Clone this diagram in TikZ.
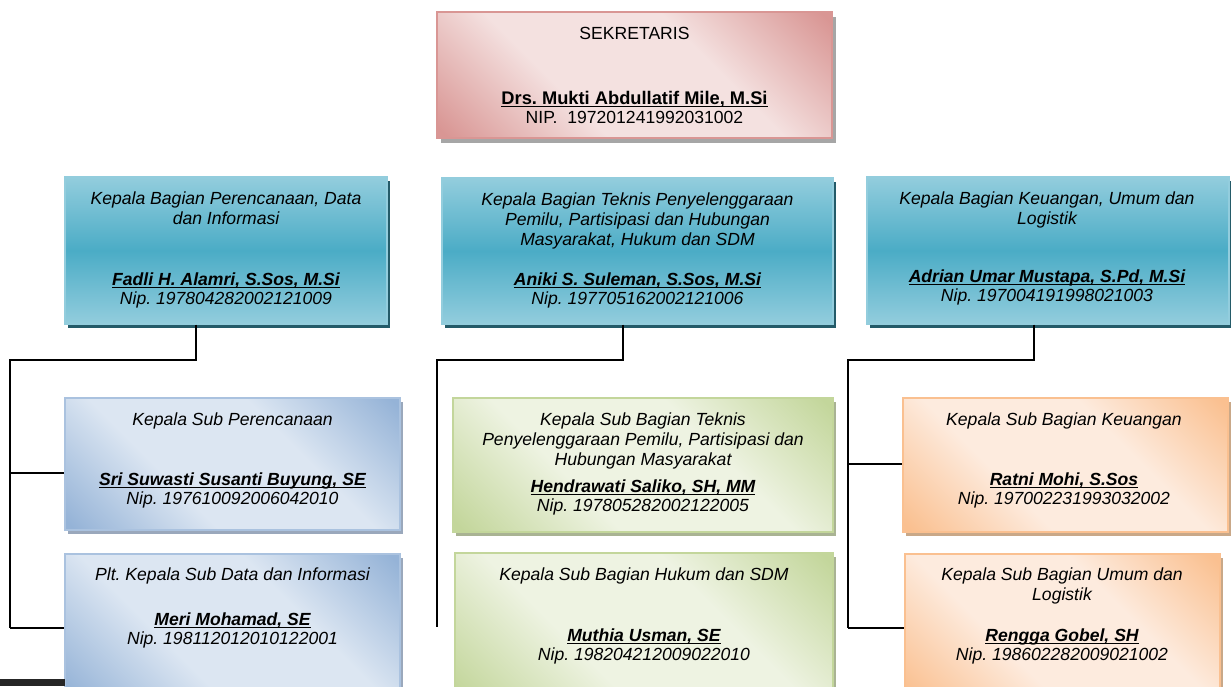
\documentclass[tikz,border=0pt]{standalone}
\usepackage{fontspec}
\setmainfont{Liberation Sans}
\usetikzlibrary{shadows}

\definecolor{sekgelap}{HTML}{D99694}
\definecolor{sekterang}{HTML}{F4E1E0}
\definecolor{sekbayang}{HTML}{A6A6A6}
\definecolor{tealgelap}{HTML}{4BACC6}
\definecolor{tealterang}{HTML}{93CDDD}
\definecolor{tealbayang}{HTML}{245B69}
\definecolor{birugelap}{HTML}{95B3D7}
\definecolor{biruterang}{HTML}{DCE6F2}
\definecolor{birubayang}{HTML}{9AA8BC}
\definecolor{hijaugelap}{HTML}{C3D69B}
\definecolor{hijauterang}{HTML}{EEF3E2}
\definecolor{hijaubayang}{HTML}{A9B393}
\definecolor{oranyegelap}{HTML}{FAC090}
\definecolor{oranyeterang}{HTML}{FDEBDE}
\definecolor{oranyebayang}{HTML}{C9A888}

\pgfdeclareverticalshading{sekshade}{100bp}{color(0bp)=(sekgelap); color(16bp)=(sekgelap);
  color(38bp)=(sekterang); color(62bp)=(sekterang); color(84bp)=(sekgelap); color(100bp)=(sekgelap)}
\pgfdeclareverticalshading{birushade}{100bp}{color(0bp)=(birugelap); color(16bp)=(birugelap);
  color(38bp)=(biruterang); color(62bp)=(biruterang); color(84bp)=(birugelap); color(100bp)=(birugelap)}
\pgfdeclareverticalshading{hijaushade}{100bp}{color(0bp)=(hijaugelap); color(16bp)=(hijaugelap);
  color(38bp)=(hijauterang); color(62bp)=(hijauterang); color(84bp)=(hijaugelap); color(100bp)=(hijaugelap)}
\pgfdeclareverticalshading{oranyeshade}{100bp}{color(0bp)=(oranyegelap); color(16bp)=(oranyegelap);
  color(38bp)=(oranyeterang); color(62bp)=(oranyeterang); color(84bp)=(oranyegelap); color(100bp)=(oranyegelap)}

\newcommand{\pxu}{0.025cm}
\newcommand{\garisbawah}[1]{\setbox0\hbox{#1}\rlap{\rule[-1.8pt]{\wd0}{0.7pt}}\box0}
\frenchspacing

\begin{document}
\begin{tikzpicture}
  [x=0.025cm,y=-0.025cm,
   every node/.style={inner sep=0pt, align=center, font=\fontsize{12.5}{14.5}\selectfont},
   kotak/.style 2 args={rectangle, minimum width=#1*\pxu, minimum height=#2*\pxu},
   sek/.style={draw=sekgelap, line width=0.8pt, shading=sekshade, shading angle=-45,
     drop shadow={shadow xshift=0.1cm, shadow yshift=-0.12cm, fill=sekbayang, opacity=1}},
   bag/.style={draw=tealterang, line width=1pt, top color=tealterang, bottom color=tealterang,
     middle color=tealgelap,
     drop shadow={shadow xshift=0.08cm, shadow yshift=-0.09cm, fill=tealbayang, opacity=1}},
   subbiru/.style={draw=birugelap!80, line width=0.8pt, shading=birushade, shading angle=-45,
     drop shadow={shadow xshift=0.08cm, shadow yshift=-0.09cm, fill=birubayang, opacity=1}},
   subhijau/.style={draw=hijaugelap, line width=0.8pt, shading=hijaushade, shading angle=-45,
     drop shadow={shadow xshift=0.08cm, shadow yshift=-0.09cm, fill=hijaubayang, opacity=1}},
   suboranye/.style={draw=oranyegelap, line width=0.8pt, shading=oranyeshade, shading angle=-45,
     drop shadow={shadow xshift=0.08cm, shadow yshift=-0.09cm, fill=oranyebayang, opacity=1}},
   judul/.style={font=\fontsize{12.5}{14.5}\selectfont\itshape},
   nama/.style={font=\fontsize{12.5}{13.5}\selectfont\itshape},
   link/.style={line width=1.5pt}]
  \useasboundingbox (0,0) rectangle (1231,686);

  % kotak
  \node[sek, kotak={395}{126}] (sek) at (634.5,75) {};
  \node[bag, kotak={322}{147}] (kb1) at (226,250.5) {};
  \node[bag, kotak={391}{146}] (kb2) at (637.5,251) {};
  \node[bag, kotak={362}{147}] (kb3) at (1048,250.5) {};
  \node[subbiru, kotak={335}{132}] (ks1) at (232.5,464) {};
  \node[subbiru, kotak={335}{146}] (ks2) at (232.5,627) {};
  \node[subhijau, kotak={380}{134}] (ks3) at (643,465) {};
  \node[subhijau, kotak={378}{147}] (ks4) at (644,626.5) {};
  \node[suboranye, kotak={325}{134}] (ks5) at (1065.5,465) {};
  \node[suboranye, kotak={315}{146}] (ks6) at (1062.5,627) {};
  \fill[black!85] (0,679) rectangle (65,686);

  % teks
  \node (sekj) at (634.5,33) {SEKRETARIS};
  \node[font=\fontsize{12.5}{13.5}\selectfont] (sekn) at (634.5,107.5)
    {{\fontsize{13}{13.5}\selectfont\textbf{\garisbawah{Drs. Mukti Abdullatif Mile, M.Si}}}\\NIP.\ \ 197201241992031002};
  \node[judul] (kb1j) at (226,208) {Kepala Bagian Perencanaan, Data\\dan Informasi};
  \node[nama] (kb1n) at (226,290) {\textbf{\garisbawah{Fadli H. Alamri, S.Sos, M.Si}}\\Nip. 197804282002121009};
  \node[judul] (kb2j) at (637.5,221) {Kepala Bagian Teknis Penyelenggaraan\\Pemilu, Partisipasi dan Hubungan\\Masyarakat, Hukum dan SDM};
  \node[nama] (kb2n) at (637.5,290.5) {\textbf{\garisbawah{Aniki S. Suleman, S.Sos, M.Si}}\\Nip. 197705162002121006};
  \node[judul] (kb3j) at (1047,210) {Kepala Bagian Keuangan, Umum dan\\Logistik};
  \node[nama] (kb3n) at (1047,287.5) {\textbf{\garisbawah{Adrian Umar Mustapa, S.Pd, M.Si}}\\Nip. 197004191998021003};
  \node[judul] (ks1j) at (232.5,421) {Kepala Sub Perencanaan};
  \node[nama] (ks1n) at (232.5,490.5) {\textbf{\garisbawah{Sri Suwasti Susanti Buyung, SE}}\\Nip. 197610092006042010};
  \node[judul] (ks2j) at (232.5,576) {Plt. Kepala Sub Data dan Informasi};
  \node[nama] (ks2n) at (232.5,630.5) {\textbf{\garisbawah{Meri Mohamad, SE}}\\Nip. 198112012010122001};
  \node[judul] (ks3j) at (643,441) {Kepala Sub Bagian Teknis\\Penyelenggaraan Pemilu, Partisipasi dan\\Hubungan Masyarakat};
  \node[nama] (ks3n) at (643,497) {\textbf{\garisbawah{Hendrawati Saliko, SH, MM}}\\Nip. 197805282002122005};
  \node[judul] (ks4j) at (644,576) {Kepala Sub Bagian Hukum dan SDM};
  \node[nama] (ks4n) at (644,646.5) {\textbf{\garisbawah{Muthia Usman, SE}}\\Nip. 198204212009022010};
  \node[judul] (ks5j) at (1064,421) {Kepala Sub Bagian Keuangan};
  \node[nama] (ks5n) at (1064,490.5) {\textbf{\garisbawah{Ratni Mohi, S.Sos}}\\Nip. 197002231993032002};
  \node[judul] (ks6j) at (1062,586) {Kepala Sub Bagian Umum dan\\Logistik};
  \node[nama] (ks6n) at (1062,646.5) {\textbf{\garisbawah{Rengga Gobel, SH}}\\Nip. 198602282009021002};

  % garis
  \coordinate (c1) at (196,360);
  \coordinate (c2) at (623,360);
  \coordinate (c3) at (1034,360);
  \coordinate (s1) at (10,360);
  \coordinate (s2) at (437,360);
  \coordinate (s3) at (848,360);
  \coordinate (e1) at (10,628);
  \coordinate (e2) at (437,627);
  \coordinate (e3) at (848,628);
  \coordinate (b1) at (10,473);
  \coordinate (b3) at (848,464);
  \foreach \i in {1,2,3}
    \draw[link] (kb\i.south -| c\i) -- (c\i) -- (s\i) -- (e\i);
  \foreach \from/\to in {b1/ks1, e1/ks2, b3/ks5, e3/ks6}
    \draw[link] (\from) -- (\to.west |- \from);
\end{tikzpicture}
\end{document}
